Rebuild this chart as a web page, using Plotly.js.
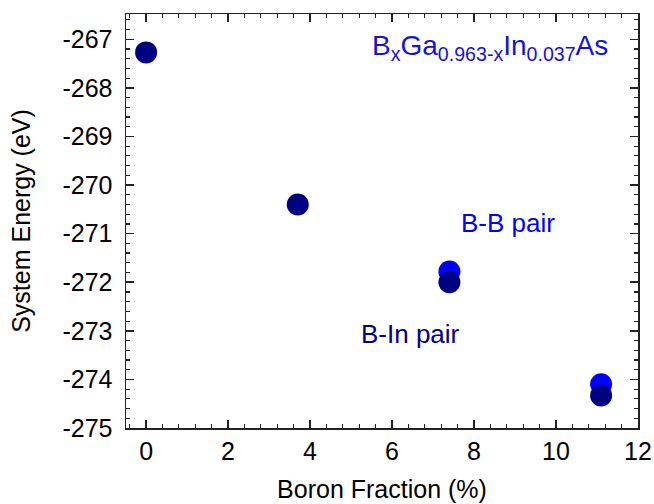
<!DOCTYPE html>
<html>
<head>
<meta charset="utf-8">
<script src="https://cdn.plot.ly/plotly-3.0.1.min.js"></script>
<style>html,body{margin:0;padding:0;background:#fff;}#chart{width:654px;height:504px;}</style>
</head>
<body>
<div id="chart"></div>
<script>
// Data
const xBInPair = [0, 3.7, 7.4, 11.1];
const yBInPair = [-267.27, -270.4, -272.0, -274.33];
const xBBPair = [7.4, 11.1];
const yBBPair = [-271.78, -274.1];
const xTickVals = [0, 2, 4, 6, 8, 10, 12];
const xTickText = ['0', '2', '4', '6', '8', '10', '12'];
const yTickVals = [-267, -268, -269, -270, -271, -272, -273, -274, -275];
const yTickText = ['-267', '-268', '-269', '-270', '-271', '-272', '-273', '-274', '-275'];

const navy = '#000080';
const blue = '#0000ff';
const font = 'Liberation Sans, Arial, sans-serif';

const traces = [
  {x: xBBPair, y: yBBPair, mode: 'markers', type: 'scatter',
   marker: {size: 22, color: blue}, showlegend: false, hoverinfo: 'skip'},
  {x: xBInPair, y: yBInPair, mode: 'markers', type: 'scatter',
   marker: {size: 22, color: navy}, showlegend: false, hoverinfo: 'skip'}
];

const axCommon = {
  showgrid: false, zeroline: false, showline: true, linecolor: '#222', linewidth: 1.5,
  mirror: 'allticks', ticks: 'inside', ticklen: 8, tickwidth: 1.5, tickcolor: '#222',
  tickfont: {family: font, size: 25, color: '#000'},
};

const layout = {
  width: 654, height: 504,
  margin: {l: 126, r: 16, t: 14, b: 76},
  paper_bgcolor: '#fff', plot_bgcolor: '#fff',
  font: {family: font},
  xaxis: Object.assign({}, axCommon, {
    range: [-0.49, 12], tickmode: 'array', tickvals: xTickVals, ticktext: xTickText,
    minor: {dtick: 0.4, tick0: 0, ticks: 'inside', ticklen: 4, tickwidth: 1.2, tickcolor: '#222'},
    title: {text: 'Boron Fraction (%)', font: {family: font, size: 25, color: '#000'}, standoff: 17},
    ticklabelstandoff: 0
  }),
  yaxis: Object.assign({}, axCommon, {
    range: [-275, -266.48], tickmode: 'array', tickvals: yTickVals, ticktext: yTickText,
    minor: {dtick: 0.2, tick0: -275, ticks: 'inside', ticklen: 4, tickwidth: 1.2, tickcolor: '#222'},
    title: {text: 'System Energy (eV)', font: {family: font, size: 25, color: '#000'}, standoff: 24},
    ticklabelstandoff: 7
  }),
  annotations: [
    {xref: 'paper', yref: 'paper', x: (490 - 126) / 512, y: (428 - 47) / 414, xanchor: 'center', yanchor: 'middle',
     text: 'B<sub>x</sub>Ga<sub>0.963-x</sub>In<sub>0.037</sub>As', showarrow: false,
     font: {family: font, size: 28, color: '#1414d2'}},
    {xref: 'paper', yref: 'paper', x: (508 - 126) / 512, y: (428 - 223) / 414, xanchor: 'center', yanchor: 'middle',
     text: 'B-B pair', showarrow: false, font: {family: font, size: 26, color: blue}},
    {xref: 'paper', yref: 'paper', x: (410 - 126) / 512, y: (428 - 334) / 414, xanchor: 'center', yanchor: 'middle',
     text: 'B-In pair', showarrow: false, font: {family: font, size: 26, color: navy}}
  ]
};

Plotly.newPlot('chart', traces, layout, {staticPlot: true, displayModeBar: false});
</script>
</body>
</html>
